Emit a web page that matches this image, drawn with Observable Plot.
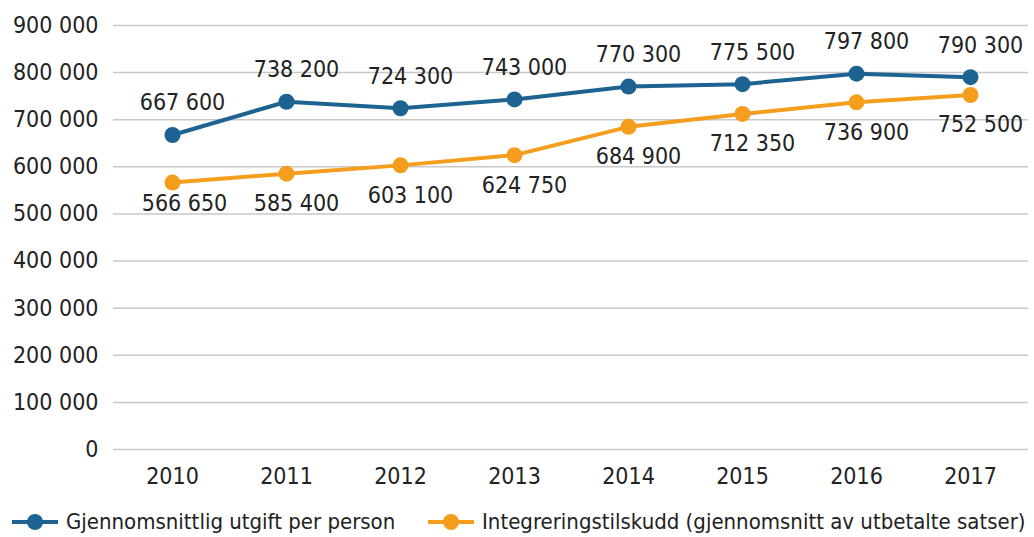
<!DOCTYPE html>
<html>
<head>
<meta charset="utf-8">
<script src="https://cdn.jsdelivr.net/npm/d3@7"></script>
<script src="https://cdn.jsdelivr.net/npm/@observablehq/plot@0.6"></script>
<style>
  html, body { margin: 0; padding: 0; background: #fff; }
  body { width: 1034px; height: 537px; overflow: hidden; font-family: "DejaVu Sans Condensed", "DejaVu Sans", sans-serif; font-stretch: condensed; color: #222; }
  #legend { position: absolute; top: 509px; left: 0; width: 1034px; height: 30px; font-size: 22px; }
  .item { position: absolute; top: 0; display: flex; align-items: center; white-space: nowrap; }
  .item svg { margin-right: 8px; }
</style>
</head>
<body>
<div id="chart"></div>
<div id="legend"></div>
<script>
const years = ["2010","2011","2012","2013","2014","2015","2016","2017"];
const utgift = [667600, 738200, 724300, 743000, 770300, 775500, 797800, 790300];
const tilskudd = [566650, 585400, 603100, 624750, 684900, 712350, 736900, 752500];
const yTicks = [0, 100000, 200000, 300000, 400000, 500000, 600000, 700000, 800000, 900000];
const seriesNames = ["Gjennomsnittlig utgift per person", "Integreringstilskudd (gjennomsnitt av utbetalte satser)"];
const colors = ["#1d6391", "#f59e1e"];

const fmt = v => d3.format(",")(v).replace(/,/g, " ");
const blue = years.map((y, i) => ({year: y, value: utgift[i]}));
const orange = years.map((y, i) => ({year: y, value: tilskudd[i]}));

const FS = 23;
const chart = Plot.plot({
  width: 1034,
  height: 500,
  marginLeft: 113,
  marginRight: 6,
  marginTop: 25,
  marginBottom: 51,
  style: {fontFamily: "'DejaVu Sans Condensed', 'DejaVu Sans', sans-serif", fontSize: FS + "px", color: "#222", background: "#fff"},
  x: {type: "point", domain: years, padding: 0.5, label: null},
  y: {domain: [0, 900000], label: null},
  marks: [
    Plot.ruleY(yTicks, {stroke: "#c8c8c8", strokeWidth: 1.5}),
    Plot.axisY(yTicks, {tickSize: 0, tickPadding: 15, tickFormat: fmt, label: null, fontSize: FS}),
    Plot.axisX(years, {tickSize: 0, tickPadding: 18, label: null, fontSize: FS}),
    Plot.line(blue, {x: "year", y: "value", stroke: colors[0], strokeWidth: 4}),
    Plot.dot(blue, {x: "year", y: "value", fill: colors[0], r: 8}),
    Plot.line(orange, {x: "year", y: "value", stroke: colors[1], strokeWidth: 4}),
    Plot.dot(orange, {x: "year", y: "value", fill: colors[1], r: 8}),
    Plot.text(blue, {x: "year", y: "value", text: d => fmt(d.value), dy: -32, dx: 10, fontSize: FS, fill: "#222"}),
    Plot.text(orange.filter(d => d.year !== "2010"), {x: "year", y: "value", text: d => fmt(d.value), dy: 30, dx: 10, fontSize: FS, fill: "#222"}),
    Plot.text(orange.filter(d => d.year === "2010"), {x: "year", y: "value", text: d => fmt(d.value), dy: 21, dx: 12, fontSize: FS, fill: "#222"})
  ]
});
document.getElementById("chart").appendChild(chart);

const legend = document.getElementById("legend");
const lefts = [12, 428];
seriesNames.forEach((name, i) => {
  const item = document.createElement("div");
  item.className = "item";
  item.style.left = lefts[i] + "px";
  item.innerHTML = `<svg width="46" height="24"><line x1="0" y1="12" x2="46" y2="12" stroke="${colors[i]}" stroke-width="4"/><circle cx="23" cy="12" r="8" fill="${colors[i]}"/></svg><span>${name}</span>`;
  legend.appendChild(item);
});
</script>
</body>
</html>
